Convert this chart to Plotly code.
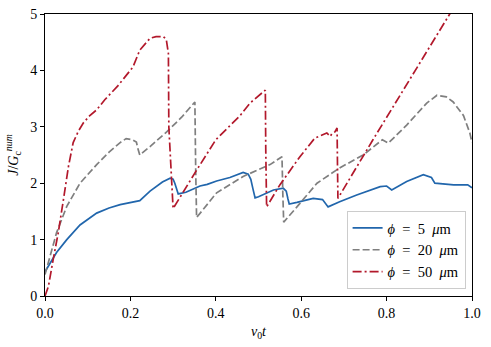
import plotly.graph_objects as go

# phi = 5 um
x_5 = [0.0, 0.012, 0.027, 0.051, 0.082, 0.121, 0.15, 0.176, 0.2, 0.214, 0.222, 0.246, 0.275, 0.293, 0.3, 0.304,
       0.308, 0.312, 0.33, 0.363, 0.38, 0.402, 0.433, 0.464, 0.476, 0.482, 0.487, 0.492, 0.50, 0.535, 0.558, 0.565,
       0.569, 0.572, 0.59, 0.628, 0.65, 0.663, 0.69, 0.73, 0.785, 0.80, 0.812, 0.847, 0.886, 0.905, 0.913, 0.957,
       0.99, 1.0]
y_5 = [0.43, 0.59, 0.77, 1.0, 1.26, 1.47, 1.56, 1.62, 1.65, 1.67, 1.69, 1.86, 2.02, 2.09, 2.07, 2.0,
       1.9, 1.81, 1.84, 1.95, 1.98, 2.04, 2.1, 2.19, 2.16, 2.07, 1.9, 1.74, 1.76, 1.88, 1.91, 1.86,
       1.72, 1.63, 1.66, 1.73, 1.71, 1.58, 1.67, 1.79, 1.94, 1.95, 1.88, 2.03, 2.15, 2.1, 2.0, 1.97,
       1.97, 1.92]

# phi = 20 um
x_20 = [0.0, 0.012, 0.027, 0.051, 0.082, 0.121, 0.15, 0.176, 0.19, 0.205, 0.214, 0.218, 0.222, 0.246, 0.285,
        0.32, 0.351, 0.353, 0.355, 0.402, 0.464, 0.527, 0.555, 0.557, 0.559, 0.59, 0.637, 0.69, 0.745, 0.79,
        0.804, 0.847, 0.894, 0.918, 0.94, 0.956, 0.98, 0.995, 1.0]
y_20 = [0.38, 0.71, 1.12, 1.59, 2.0, 2.33, 2.55, 2.72, 2.79, 2.77, 2.73, 2.6, 2.5, 2.65, 2.91,
        3.17, 3.44, 2.2, 1.39, 1.83, 2.12, 2.33, 2.47, 1.8, 1.31, 1.58, 2.0, 2.27, 2.5, 2.77,
        2.71, 3.03, 3.42, 3.56, 3.53, 3.44, 3.2, 2.89, 2.72]

# phi = 50 um
x_50 = [0.0, 0.008, 0.019, 0.031, 0.043, 0.055, 0.066, 0.078, 0.09, 0.105, 0.121, 0.14, 0.17, 0.206, 0.222,
        0.246, 0.26, 0.277, 0.284, 0.289, 0.29, 0.30, 0.355, 0.40, 0.457, 0.48, 0.508, 0.516, 0.517, 0.519,
        0.55, 0.597, 0.632, 0.66, 0.668, 0.672, 0.679, 0.684, 0.685, 0.686, 0.768, 0.85, 0.948, 0.96]
y_50 = [0.0, 0.17, 0.64, 1.12, 1.7, 2.3, 2.72, 2.92, 3.07, 3.2, 3.3, 3.48, 3.72, 4.06, 4.36,
        4.57, 4.6, 4.6, 4.55, 4.3, 3.0, 1.55, 2.23, 2.77, 3.2, 3.42, 3.6, 3.65, 2.6, 1.58,
        1.97, 2.47, 2.8, 2.89, 2.83, 2.88, 2.91, 2.98, 2.3, 1.73, 2.77, 3.78, 5.0, 5.15]

sp = "\u2002"
names = [f"<i>ϕ</i>{sp}={sp}5{sp}<i>μ</i>m", f"<i>ϕ</i>{sp}={sp}20{sp}<i>μ</i>m", f"<i>ϕ</i>{sp}={sp}50{sp}<i>μ</i>m"]

fig = go.Figure()
fig.add_trace(go.Scatter(x=x_5, y=y_5, mode="lines", name=names[0],
                         line=dict(color="#2166ac", width=1.7)))
fig.add_trace(go.Scatter(x=x_20, y=y_20, mode="lines", name=names[1],
                         line=dict(color="#7f7f7f", width=1.7, dash="7px,3px")))
fig.add_trace(go.Scatter(x=x_50, y=y_50, mode="lines", name=names[2],
                         line=dict(color="#b2182b", width=1.7, dash="9px,3px,2px,3px")))

axis_style = dict(showline=True, linecolor="black", linewidth=1, mirror=True, ticks="outside",
                  ticklen=4, tickcolor="black", showgrid=False, zeroline=False, automargin=False,
                  tickfont=dict(size=14))

fig.update_layout(
    width=491, height=347,
    margin=dict(l=45, r=19, t=14, b=51),
    plot_bgcolor="white", paper_bgcolor="white",
    font=dict(family="Liberation Serif", color="black", size=14),
    xaxis=dict(range=[0, 1], tickvals=[0, 0.2, 0.4, 0.6, 0.8, 1.0], tickformat=".1f",
               title=dict(text="<i>v</i><sub>0</sub><i>t</i>", standoff=6, font=dict(size=14)), **axis_style),
    yaxis=dict(range=[0, 5], tickvals=[0, 1, 2, 3, 4, 5],
               title=dict(text="<i>J</i>/<i>G</i><sub>c</sub><sup><i>num</i></sup>", standoff=8, font=dict(size=14)),
               **axis_style),
    legend=dict(x=0.985, y=0.025, xanchor="right", yanchor="bottom", bgcolor="rgba(255,255,255,0.85)",
                bordercolor="#cccccc", borderwidth=1, font=dict(size=14.5), tracegroupgap=0),
)

# drop the default 8px body margin so the figure fills the window exactly
fig.write_html("out.html", config={"displayModeBar": False},
               post_script="document.body.style.margin='0';")
